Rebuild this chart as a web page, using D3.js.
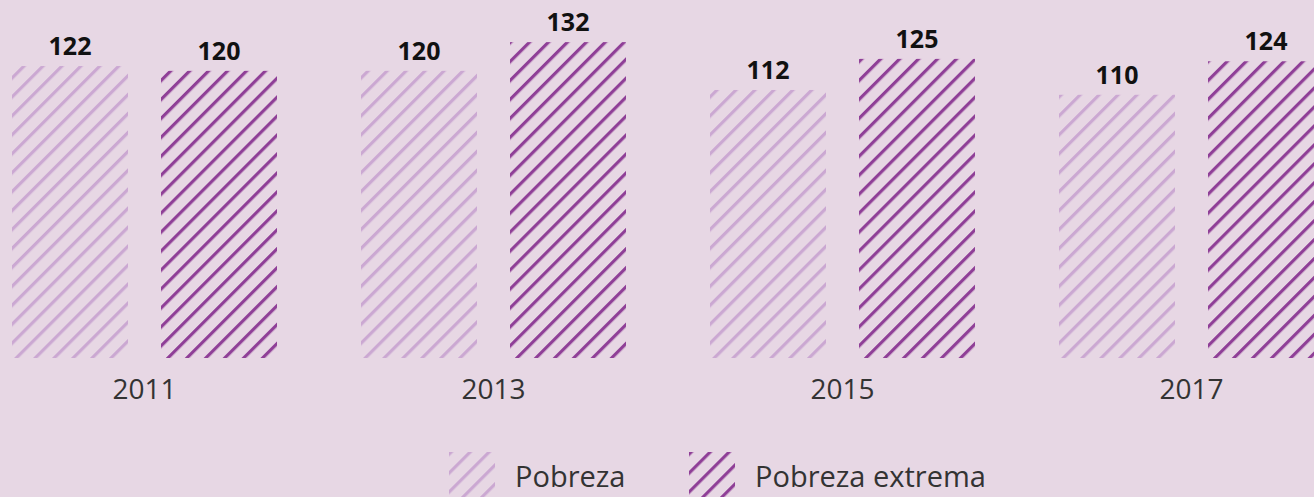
<!DOCTYPE html>
<html>
<head>
<meta charset="utf-8">
<script src="https://cdn.jsdelivr.net/npm/d3@7"></script>
<style>
  html, body { margin: 0; padding: 0; background: #e7d7e4; }
  svg { display: block; font-family: "Open Sans", "Noto Sans", sans-serif; }
</style>
</head>
<body>
<svg id="chart"></svg>
<script>
const years = ["2011", "2013", "2015", "2017"];
const series = ["Pobreza", "Pobreza extrema"];
const pobreza = [122, 120, 112, 110];
const pobrezaExtrema = [120, 132, 125, 124];

const width = 1314, height = 497;
const baseline = 358;

const colors = {"Pobreza": "#cba8d2", "Pobreza extrema": "#8f3f97"};
const patternIds = {"Pobreza": "hatch-light", "Pobreza extrema": "hatch-dark"};

const svg = d3.select("#chart").attr("width", width).attr("height", height);

// hatch patterns
const defs = svg.append("defs");
series.forEach(s => {
    const p = defs.append("pattern")
        .attr("id", patternIds[s])
        .attr("patternUnits", "userSpaceOnUse")
        .attr("width", 13.4).attr("height", 13.4)
        .attr("patternTransform", "rotate(45)");
    p.append("rect").attr("x", 0).attr("y", 0).attr("width", 3.2).attr("height", 13.4).attr("fill", colors[s]);
});

const data = years.map((y, i) => ({year: y, values: [
    {key: series[0], value: pobreza[i]},
    {key: series[1], value: pobrezaExtrema[i]}
]}));

const x0 = d3.scaleBand().domain(years).range([-30, 1366]).paddingInner(0.2407).paddingOuter(0.12035);
const x1 = d3.scaleBand().domain(series).range([0, x0.bandwidth()]).paddingInner(0.2215);
const y = d3.scaleLinear().domain([0, 100]).range([baseline, baseline - 239.3]);

const groups = svg.selectAll("g.year").data(data).enter().append("g")
    .attr("class", "year")
    .attr("transform", d => `translate(${x0(d.year)},0)`);

groups.selectAll("rect").data(d => d.values).enter().append("rect")
    .attr("x", d => x1(d.key))
    .attr("y", d => y(d.value))
    .attr("width", x1.bandwidth())
    .attr("height", d => y(0) - y(d.value))
    .attr("fill", d => `url(#${patternIds[d.key]})`);

groups.selectAll("text.val").data(d => d.values).enter().append("text")
    .attr("class", "val")
    .attr("x", d => x1(d.key) + x1.bandwidth() / 2)
    .attr("y", d => y(d.value) - 11)
    .attr("text-anchor", "middle")
    .attr("font-size", 25).attr("font-weight", 700).attr("fill", "#111")
    .text(d => d.value);

// x axis labels
const xAxis = d3.axisBottom(x0).tickSize(0).tickPadding(0);
const axisG = svg.append("g").attr("transform", `translate(0,${baseline})`).call(xAxis);
axisG.select(".domain").remove();
axisG.selectAll("text")
    .attr("dy", null).attr("y", 41)
    .attr("font-size", 28).attr("fill", "#333")
    .attr("font-family", "\"Open Sans\", \"Noto Sans\", sans-serif");

// legend
const legendPos = [449, 689];
const legend = svg.selectAll("g.legend").data(series).enter().append("g")
    .attr("class", "legend")
    .attr("transform", (d, i) => `translate(${legendPos[i]},452)`);
legend.append("rect").attr("width", 46).attr("height", 45)
    .attr("fill", d => `url(#${patternIds[d]})`);
legend.append("text").attr("x", 66).attr("y", 35)
    .attr("font-size", 29).attr("fill", "#333")
    .text(d => d);
</script>
</body>
</html>
